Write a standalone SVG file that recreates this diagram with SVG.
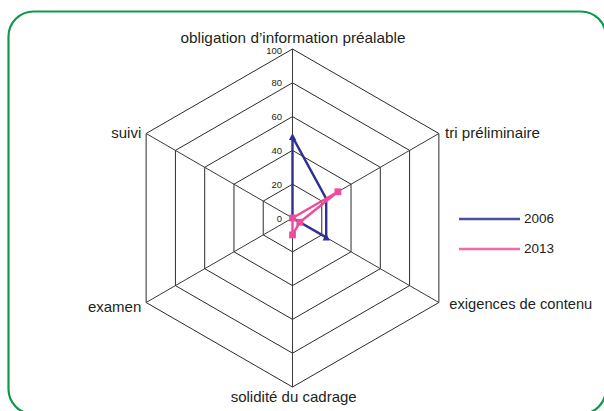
<svg xmlns="http://www.w3.org/2000/svg" xmlns:xlink="http://www.w3.org/1999/xlink" width="604" height="411" viewBox="0 0 604 411">
<style>
.lbl{font-family:"Liberation Sans",Arial,sans-serif;font-size:15px;fill:#231f20}
.tick{font-family:"Liberation Sans",Arial,sans-serif;font-size:9.5px;fill:#231f20;text-anchor:end}
.leg{font-family:"Liberation Sans",Arial,sans-serif;font-size:13.5px;fill:#231f20}
.grid{fill:none;stroke:#2b2b2b;stroke-width:1}
.spoke{stroke:#3a3a3a;stroke-width:1}
.s2006{fill:none;stroke:#2e3192;stroke-width:2.4;stroke-linejoin:round}
.s2013{fill:none;stroke:#ec4c9b;stroke-width:2.4;stroke-linejoin:round}
</style>
<defs>
<polygon id="tri" points="0,-4 3.6,3 -3.6,3" fill="#2e3192"/>
<rect id="sq" x="-3.4" y="-3.4" width="6.8" height="6.8" fill="#ec4c9b"/>
</defs>
<rect width="604" height="411" fill="#ffffff"/>
<rect x="8.5" y="11.5" width="597.5" height="402.5" rx="25" ry="25" fill="none" stroke="#0f9a4a" stroke-width="2.2"/>
<g id="grid">
<polygon class="grid" points="292.5,184.2 321.77,201.1 321.77,234.9 292.5,251.8 263.23,234.9 263.23,201.1"/>
<polygon class="grid" points="292.5,150.4 351.04,184.2 351.04,251.8 292.5,285.6 233.96,251.8 233.96,184.2"/>
<polygon class="grid" points="292.5,116.6 380.31,167.3 380.31,268.7 292.5,319.4 204.69,268.7 204.69,167.3"/>
<polygon class="grid" points="292.5,82.8 409.59,150.4 409.59,285.6 292.5,353.2 175.41,285.6 175.41,150.4"/>
<polygon class="grid" points="292.5,49 438.86,133.5 438.86,302.5 292.5,387 146.14,302.5 146.14,133.5"/>
<line class="spoke" x1="292.5" y1="218" x2="292.5" y2="49"/>
<line class="spoke" x1="292.5" y1="218" x2="438.86" y2="133.5"/>
<line class="spoke" x1="292.5" y1="218" x2="438.86" y2="302.5"/>
<line class="spoke" x1="292.5" y1="218" x2="292.5" y2="387"/>
<line class="spoke" x1="292.5" y1="218" x2="146.14" y2="302.5"/>
<line class="spoke" x1="292.5" y1="218" x2="146.14" y2="133.5"/>
</g>
<g id="ticks">
<text class="tick" x="282" y="54" font-size="8">100</text>
<text class="tick" x="282" y="86.3">80</text>
<text class="tick" x="282" y="120.1">60</text>
<text class="tick" x="282" y="154" font-size="10">40</text>
<text class="tick" x="282" y="187.8" font-size="10">20</text>
<text class="tick" x="282" y="221.8" font-size="10">0</text>
</g>
<g id="axis-labels">
<text id="obligation" class="lbl" x="293" y="42.5" text-anchor="middle" textLength="225" lengthAdjust="spacingAndGlyphs">obligation d’information préalable</text>
<text id="tri-preliminaire" class="lbl" x="445" y="138.3" textLength="95" lengthAdjust="spacingAndGlyphs">tri préliminaire</text>
<text id="exigences" class="lbl" x="449.3" y="308.5" textLength="143" lengthAdjust="spacingAndGlyphs">exigences de contenu</text>
<text id="solidite" class="lbl" x="293.7" y="401.5" text-anchor="middle" textLength="126" lengthAdjust="spacingAndGlyphs">solidité du cadrage</text>
<text id="examen" class="lbl" x="141.3" y="311.7" text-anchor="end">examen</text>
<text id="suivi" class="lbl" x="141.3" y="138.3" text-anchor="end">suivi</text>
</g>
<g id="connectors">
<g id="series-2006">
<polygon class="s2006" points="292.5,136.9 326.2,198.6 326.2,237.4 292.5,218"/>
<use xlink:href="#tri" x="292.5" y="136.9"/>
<use xlink:href="#tri" x="326.2" y="237.4"/>
</g>
<g id="series-2013">
<polygon class="s2013" points="292.5,218 337.9,191.8 299.8,222.2 292.5,234.9"/>
<use xlink:href="#sq" x="337.9" y="191.8"/>
<use xlink:href="#sq" x="299.8" y="222.2"/>
<use xlink:href="#sq" x="292.5" y="234.9"/>
<use xlink:href="#sq" x="292.5" y="218"/>
</g>
</g>
<g id="legend">
<line x1="459" y1="219" x2="520" y2="219" stroke="#4b4fa3" stroke-width="2.4"/>
<text class="leg" x="524" y="222.6">2006</text>
<line x1="459" y1="249" x2="520" y2="249" stroke="#ee6aa9" stroke-width="2.4"/>
<text class="leg" x="524" y="253">2013</text>
</g>
</svg>
